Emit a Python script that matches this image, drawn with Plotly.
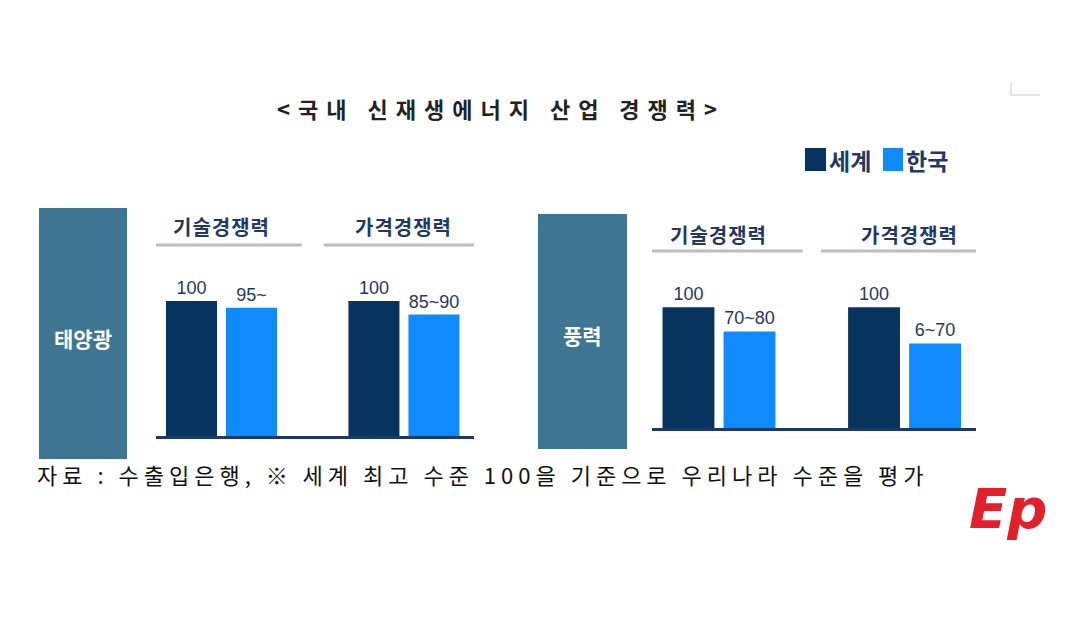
import plotly.graph_objects as go

# ---------------- data ----------------
categories = ["기술경쟁력", "가격경쟁력"]
panels = ["태양광", "풍력"]
series_names = ["세계", "한국"]
world_solar = [100, 100]
korea_solar = [95, 90]
world_wind = [100, 100]
korea_wind = [80, 70]
world_labels = ["100", "100"]
korea_solar_labels = ["95~", "85~90"]
korea_wind_labels = ["70~80", "6~70"]
title_text = "<국내 신재생에너지 산업 경쟁력>"
source_text = "자료 : 수출입은행, ※ 세계 최고 수준 100을 기준으로 우리나라 수준을 평가"

# ---------------- style ----------------
W, H = 1080, 626
DARK = "#07335F"
LIGHT = "#0F8BFF"
BOX = "#3E7592"
NAVY_TXT = "#1F3864"
GRAY = "#BDBDBD"
KFONT = "Noto Sans CJK KR"


def px(x):
    return x / W


def py(y):
    return 1 - y / H


fig = go.Figure()

label_font = dict(family="Liberation Sans, Arial", size=18, color=NAVY_TXT)

panel_specs = [
    ("x", "y", world_solar, korea_solar, korea_solar_labels),
    ("x2", "y2", world_wind, korea_wind, korea_wind_labels),
]
for xa, ya, wv, kv, kl in panel_specs:
    fig.add_trace(go.Bar(x=categories, y=wv, text=world_labels, name=series_names[0],
                         marker=dict(color=DARK, line=dict(width=0)),
                         textposition="outside", textfont=label_font, cliponaxis=False,
                         showlegend=False, xaxis=xa, yaxis=ya, hoverinfo="skip"))
    fig.add_trace(go.Bar(x=categories, y=kv, text=kl, name=series_names[1],
                         marker=dict(color=LIGHT, line=dict(width=0)),
                         textposition="outside", textfont=label_font, cliponaxis=False,
                         showlegend=False, xaxis=xa, yaxis=ya, hoverinfo="skip"))

axis_common = dict(showticklabels=False, showgrid=False, zeroline=False, ticks="",
                   showline=True, linecolor="#1B3A6B", linewidth=3, fixedrange=True)
yaxis_common = dict(visible=False, showgrid=False, zeroline=False, fixedrange=True)

fig.update_layout(
    width=W, height=H,
    margin=dict(l=0, r=0, t=0, b=0),
    paper_bgcolor="white", plot_bgcolor="rgba(0,0,0,0)",
    barmode="group", bargap=0.342, bargroupgap=0.15,
    xaxis=dict(domain=[px(148), px(466)], range=[-0.359, 1.384], anchor="y", **axis_common),
    yaxis=dict(domain=[py(428), py(245)], range=[0, 135.6], anchor="x", **yaxis_common),
    xaxis2=dict(domain=[px(644), px(968)], range=[-0.361, 1.385], anchor="y2", **axis_common),
    yaxis2=dict(domain=[py(420), py(250)], range=[0, 140.8], anchor="x2", **yaxis_common),
    showlegend=False,
)

shapes = []
annotations = []

# panel label boxes
boxes = [(31, 200, 119, 451, 330), (530, 206, 619, 441, 327)]
for (x0, y0, x1, y1, ty), name in zip(boxes, panels):
    shapes.append(dict(type="rect", xref="paper", yref="paper", x0=px(x0), x1=px(x1),
                       y0=py(y1), y1=py(y0), fillcolor=BOX, line=dict(width=0), layer="below"))
    annotations.append(dict(text="<b>" + name + "</b>", xref="paper", yref="paper",
                            x=px((x0 + x1) / 2), y=py(ty), showarrow=False,
                            xanchor="center", yanchor="middle",
                            font=dict(family=KFONT, size=21, color="white")))

# group headers with gray rules
header_specs = [("x", 219, 237, 0.44, 0), ("x2", 226, 243, 0.45, 5)]
for xa, hy, ly, half, shift in header_specs:
    for i, cat in enumerate(categories):
        annotations.append(dict(text='<b><span style="letter-spacing:1px">' + cat + "</span></b>",
                                xref=xa, yref="paper",
                                x=i, y=py(hy), showarrow=False, xshift=shift * i,
                                xanchor="center", yanchor="middle",
                                font=dict(family=KFONT, size=20, color=NAVY_TXT)))
        shapes.append(dict(type="line", xref=xa, yref="paper",
                           x0=i - half, x1=i + half, y0=py(ly), y1=py(ly),
                           line=dict(color=GRAY, width=3)))

# title
annotations.append(dict(text='<b><span style="letter-spacing:8px">' + title_text.replace("<", "&lt;").replace(">", "&gt;") + "</span></b>",
                        xref="paper", yref="paper", x=px(493), y=py(100), showarrow=False,
                        xanchor="center", yanchor="middle",
                        font=dict(family=KFONT, size=22, color="#222222")))

# legend (custom squares)
legend_items = [(797, 818, DARK, series_names[0], 819), (875, 895, LIGHT, series_names[1], 896)]
for x0, x1, col, name, tx in legend_items:
    shapes.append(dict(type="rect", xref="paper", yref="paper", x0=px(x0), x1=px(x1),
                       y0=py(163), y1=py(140), fillcolor=col, line=dict(width=0)))
    annotations.append(dict(text="<b>" + name + "</b>", xref="paper", yref="paper",
                            x=px(tx), y=py(152), showarrow=False,
                            xanchor="left", yanchor="middle",
                            font=dict(family=KFONT, size=23, color=NAVY_TXT)))

# source note
annotations.append(dict(text='<span style="letter-spacing:5px">' + source_text + "</span>",
                        xref="paper", yref="paper", x=px(27), y=py(466), showarrow=False,
                        xanchor="left", yanchor="middle",
                        font=dict(family=KFONT, size=22, color="#111111")))

# corner mark
shapes.append(dict(type="path", xref="paper", yref="paper",
                   path=f"M {px(1003)} {py(75)} L {px(1003)} {py(87)} L {px(1032)} {py(87)}",
                   line=dict(color="#DDDDDD", width=1.5)))

# logo
annotations.append(dict(text="<b><i>Ep</i></b>", xref="paper", yref="paper",
                        x=px(1000), y=py(500), showarrow=False,
                        xanchor="center", yanchor="middle",
                        font=dict(family="DejaVu Sans", size=56, color="#E3202A")))

fig.update_layout(shapes=shapes, annotations=annotations)

fig.write_html("out.html")
